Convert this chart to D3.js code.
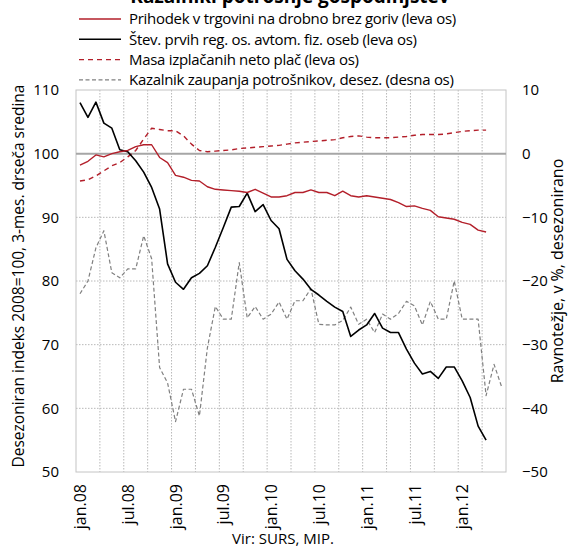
<!DOCTYPE html>
<html>
<head>
<meta charset="utf-8">
<script src="https://cdn.jsdelivr.net/npm/d3@7"></script>
<style>
body { margin: 0; background: #fff; }
text { font-family: "Open Sans", "Noto Sans", sans-serif; fill: #000; }
</style>
</head>
<body>
<script>
// categories: jan.08 .. jun.12
var months = ["jan.08","feb.08","mar.08","apr.08","maj.08","jun.08","jul.08","avg.08","sep.08","okt.08","nov.08","dec.08",
  "jan.09","feb.09","mar.09","apr.09","maj.09","jun.09","jul.09","avg.09","sep.09","okt.09","nov.09","dec.09",
  "jan.10","feb.10","mar.10","apr.10","maj.10","jun.10","jul.10","avg.10","sep.10","okt.10","nov.10","dec.10",
  "jan.11","feb.11","mar.11","apr.11","maj.11","jun.11","jul.11","avg.11","sep.11","okt.11","nov.11","dec.11",
  "jan.12","feb.12","mar.12","apr.12","maj.12","jun.12"];
var tickMonths = ["jan.08","jul.08","jan.09","jul.09","jan.10","jul.10","jan.11","jul.11","jan.12"];

// leva os
var prihodek = [98.2,98.8,99.8,99.5,100.0,100.3,100.5,101.1,101.4,101.4,99.4,98.6,
  96.6,96.3,95.8,95.7,94.8,94.4,94.3,94.2,94.1,93.9,94.4,93.8,
  93.2,93.2,93.4,93.9,93.9,94.3,93.9,93.9,93.4,94.1,93.4,93.2,
  93.4,93.2,93.0,92.8,92.3,91.7,91.8,91.4,91.1,90.1,89.9,89.7,
  89.2,88.9,88.0,87.7];
var registracije = [108.0,105.7,108.1,104.8,104.0,100.6,100.3,98.9,97.1,94.7,91.3,82.7,
  79.8,78.7,80.5,81.2,82.4,85.3,88.4,91.6,91.7,93.8,90.9,92.0,
  89.5,88.2,83.4,81.6,80.3,78.7,77.8,76.8,75.9,75.2,71.3,72.3,
  73.1,74.9,72.6,71.9,71.9,69.3,67.1,65.4,65.8,64.7,66.5,66.5,
  64.3,61.7,57.2,55.0];
var place = [95.7,95.9,96.5,97.3,98.1,98.6,99.5,100.5,102.3,104.0,103.8,103.6,
  103.6,102.8,101.5,100.5,100.3,100.4,100.5,100.6,100.8,100.9,101.0,101.1,
  101.2,101.3,101.5,101.7,101.8,101.9,102.0,102.1,102.2,102.5,102.7,102.8,
  102.6,102.5,102.5,102.5,102.6,102.7,102.9,103.0,103.0,103.0,103.1,103.3,
  103.5,103.6,103.7,103.7];
// desna os
var zaupanje = [-22,-20,-14.8,-12.1,-18.7,-19.5,-18.1,-18.1,-12.9,-16.5,-33.6,-36,
  -42.1,-37,-37,-41.2,-30.5,-24,-26,-26,-17.1,-25.8,-24,-26,
  -25.2,-23.3,-26,-23.1,-23.1,-21.2,-26.8,-26.9,-26.9,-26.2,-24.1,-26.8,
  -26,-28.1,-25.2,-26,-25.1,-23.2,-23.9,-26.9,-23.2,-26,-26,-20,
  -26,-26,-26,-38,-33.1,-36.8];

var leftTicks = [50,60,70,80,90,100,110];
var rightTicks = [-50,-40,-30,-20,-10,0,10];

var series = [
  {name: "Prihodek v trgovini na drobno brez goriv (leva os)", values: prihodek, axis: "left", color: "#b31f2a", width: 1.4, dash: null},
  {name: "Štev. prvih reg. os. avtom. fiz. oseb (leva os)", values: registracije, axis: "left", color: "#000", width: 1.6, dash: null},
  {name: "Masa izplačanih neto plač (leva os)", values: place, axis: "left", color: "#b31f2a", width: 1.4, dash: "5,4"},
  {name: "Kazalnik zaupanja potrošnikov, desez. (desna os)", values: zaupanje, axis: "right", color: "#808080", width: 1.2, dash: "4,2.5"}
];

var width = 568, height = 549;
var plot = {left: 76, right: 506, top: 90, bottom: 472};

var svg = d3.select("body").append("svg")
    .attr("width", width)
    .attr("height", height);

var x = d3.scaleBand()
    .domain(months)
    .range([plot.left, plot.right])
    .padding(0);
var yL = d3.scaleLinear().domain([50, 110]).range([plot.bottom, plot.top]);
var yR = d3.scaleLinear().domain([-50, 10]).range([plot.bottom, plot.top]);

// title (cut off at top, as in the original)
svg.append("text")
    .attr("x", 290)
    .attr("y", 2.5)
    .style("text-anchor", "middle")
    .style("font-weight", "bold")
    .style("font-size", "19px")
    .text("Kazalniki potrošnje gospodinjstev");

// grid
var grid = svg.append("g");
grid.selectAll(".hgrid")
    .data([60, 70, 80, 90])
    .enter().append("line")
    .attr("x1", plot.left).attr("x2", plot.right)
    .attr("y1", function (d) { return yL(d); })
    .attr("y2", function (d) { return yL(d); })
    .attr("stroke", "#b8b8b8")
    .attr("stroke-dasharray", "1.5,1.5");

grid.selectAll(".vgrid")
    .data(months.filter(function (d, i) { return i > 0 && i % 3 == 0; }))
    .enter().append("line")
    .attr("x1", function (d) { return x(d); })
    .attr("x2", function (d) { return x(d); })
    .attr("y1", plot.top).attr("y2", plot.bottom)
    .attr("stroke", "#b8b8b8")
    .attr("stroke-dasharray", "1.5,1.5");

svg.append("rect")
    .attr("x", plot.left).attr("y", plot.top)
    .attr("width", plot.right - plot.left)
    .attr("height", plot.bottom - plot.top)
    .attr("fill", "none")
    .attr("stroke", "#c4c4c4");

svg.append("line")
    .attr("x1", plot.left).attr("x2", plot.right)
    .attr("y1", yL(100)).attr("y2", yL(100))
    .attr("stroke", "#a6a6a6")
    .attr("stroke-width", 2);

// axes
var axisL = svg.append("g")
    .attr("transform", "translate(" + plot.left + ",0)")
    .call(d3.axisLeft(yL).tickValues(leftTicks).tickSize(0).tickPadding(17));
var axisR = svg.append("g")
    .attr("transform", "translate(" + plot.right + ",0)")
    .call(d3.axisRight(yR).tickValues(rightTicks).tickSize(0).tickPadding(16));
var axisX = svg.append("g")
    .attr("transform", "translate(0," + plot.bottom + ")")
    .call(d3.axisBottom(x).tickValues(tickMonths).tickSize(0));

[axisL, axisR, axisX].forEach(function (a) {
  a.select(".domain").remove();
  a.selectAll("text").style("font-size", "15px").style("font-family", "'Open Sans', sans-serif").attr("fill", "#000");
});
axisX.selectAll("text")
    .style("font-size", "16px")
    .attr("transform", "rotate(-90)")
    .attr("x", -12)
    .attr("y", 0)
    .attr("dy", "0.38em")
    .style("text-anchor", "end");

// axis titles
svg.append("text")
    .attr("transform", "translate(24,276) rotate(-90)")
    .style("text-anchor", "middle")
    .style("font-size", "15.5px")
    .text("Desezoniran indeks 2008=100, 3-mes. drseča sredina");

svg.append("text")
    .attr("transform", "translate(563,271) rotate(-90)")
    .style("text-anchor", "middle")
    .style("font-size", "16px")
    .text("Ravnotežje, v %, desezonirano");

svg.append("text")
    .attr("x", 283)
    .attr("y", 544)
    .style("text-anchor", "middle")
    .style("font-size", "15px")
    .text("Vir: SURS, MIP.");

// lines
var lines = svg.append("g");
series.slice().reverse().forEach(function (s) {
  var yy = s.axis == "left" ? yL : yR;
  var line = d3.line()
      .x(function (d, i) { return x(months[i]) + x.bandwidth() / 2; })
      .y(function (d) { return yy(d); });
  lines.append("path")
      .datum(s.values)
      .attr("d", line)
      .attr("fill", "none")
      .attr("stroke", s.color)
      .attr("stroke-width", s.width)
      .attr("stroke-dasharray", s.dash)
      .attr("stroke-linejoin", "round");
});

// legend
var legend = svg.append("g");
series.forEach(function (s, i) {
  var ly = 19 + i * 20.3;
  legend.append("line")
      .attr("x1", 79).attr("x2", 121)
      .attr("y1", ly).attr("y2", ly)
      .attr("stroke", s.color)
      .attr("stroke-width", s.width)
      .attr("stroke-dasharray", s.dash);
  legend.append("text")
      .attr("x", 129)
      .attr("y", ly)
      .attr("dy", "0.35em")
      .style("font-size", "15px")
      .style("letter-spacing", "-0.3px")
      .text(s.name);
});
</script>
</body>
</html>
